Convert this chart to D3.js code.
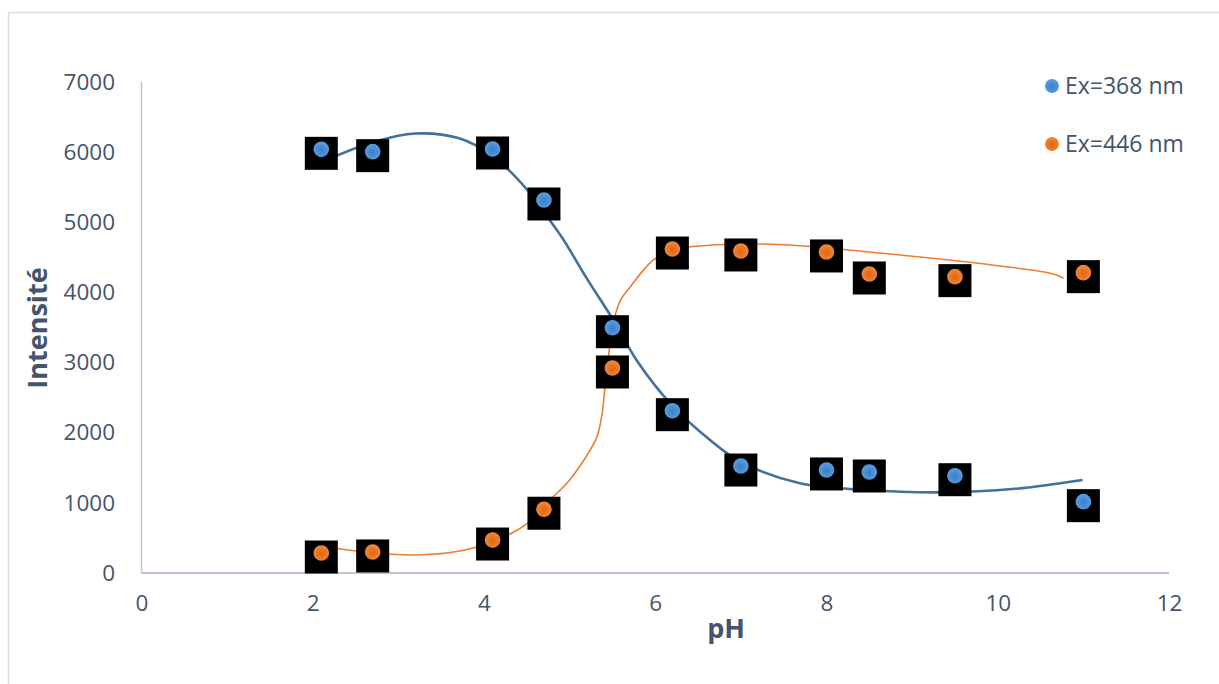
<!DOCTYPE html>
<html><head><meta charset="utf-8">
<script src="https://cdn.jsdelivr.net/npm/d3@7"></script>
<style>body{margin:0;background:#fff;} svg{display:block;}</style>
</head><body>
<svg id="c" width="1219" height="684"></svg>
<script>
// Data
const pH = [2.1, 2.7, 4.1, 4.7, 5.5, 6.2, 7.0, 8.0, 8.5, 9.5, 11.0];
const ex368 = [6040, 6007, 6045, 5318, 3497, 2314, 1525, 1469, 1440, 1387, 1017];
const ex446 = [285, 300, 470, 909, 2923, 4619, 4591, 4577, 4263, 4225, 4282];

// Trend curves as drawn
const fit368X = [2.1, 2.7, 3.2, 3.7, 4.1, 4.5, 4.75, 4.93, 5.2, 5.51, 5.8, 6.21, 6.64, 7.0, 7.69, 8.47, 9.33, 10.2, 10.99];
const fit368Y = [5855, 6140, 6265, 6200, 5945, 5470, 5060, 4748, 4200, 3607, 3000, 2371, 1896, 1583, 1278, 1183, 1150, 1200, 1326];
const fit446X = [2.1, 2.6, 3.2, 3.7, 4.1, 4.5, 4.77, 5.0, 5.24, 5.32, 5.38, 5.42, 5.46, 5.52, 5.6, 5.71, 5.85, 5.98, 6.21, 6.6, 7.22, 7.69, 8.86, 10.03, 10.65, 10.77];
const fit446Y = [389, 300, 257, 310, 446, 700, 1041, 1326, 1754, 1944, 2277, 2752, 3150, 3620, 3900, 4082, 4300, 4463, 4605, 4670, 4691, 4666, 4534, 4377, 4263, 4201];

const xTicks = [0, 2, 4, 6, 8, 10, 12];
const yTicks = [0, 1000, 2000, 3000, 4000, 5000, 6000, 7000];
const seriesNames = ["Ex=368 nm", "Ex=446 nm"];

const textColor = "#44546a";
const font = "'Open Sans', sans-serif";
const svg = d3.select("#c");

// outer border
svg.append("rect").attr("x", 8.5).attr("y", 12.5).attr("width", 1230).attr("height", 700)
  .attr("fill", "none").attr("stroke", "#d9dde3").attr("stroke-width", 1.5);

const x = d3.scaleLinear().domain([0, 12]).range([141.5, 1169]);
const y = d3.scaleLinear().domain([0, 7000]).range([573, 82]);

// axes lines
svg.append("line").attr("x1", x(0)).attr("x2", x(0)).attr("y1", y(7000)).attr("y2", y(0))
  .attr("stroke", "#bcc6d6").attr("stroke-width", 1.5);
svg.append("line").attr("x1", x(0)).attr("x2", x(12)).attr("y1", y(0)).attr("y2", y(0))
  .attr("stroke", "#bcc6d6").attr("stroke-width", 2);

// tick labels
const yAxis = d3.axisLeft(y).tickValues(yTicks).tickSize(0).tickPadding(0).tickFormat(d3.format("d"));
const gy = svg.append("g").attr("transform", `translate(115,0)`).call(yAxis);
gy.select(".domain").remove();
gy.selectAll("text").attr("fill", textColor).style("font-family", font).style("font-size", "22.5px");

const xAxis = d3.axisBottom(x).tickValues(xTicks).tickSize(0).tickPadding(0).tickFormat(d3.format("d"));
const gx = svg.append("g").attr("transform", `translate(0,595)`).call(xAxis);
gx.select(".domain").remove();
gx.selectAll("text").attr("fill", textColor).style("font-family", font).style("font-size", "22.5px");

// axis titles
svg.append("text").attr("x", 726).attr("y", 638).attr("text-anchor", "middle")
  .attr("fill", textColor).style("font-family", font).style("font-size", "27px").style("font-weight", "bold").text("pH");
svg.append("text").attr("transform", "translate(47,328) rotate(-90)").attr("text-anchor", "middle")
  .attr("fill", textColor).style("font-family", font).style("font-size", "27px").style("font-weight", "bold").text("Intensité");

// fit lines
const line = d3.line().x(d => x(d[0])).y(d => y(d[1])).curve(d3.curveCatmullRom.alpha(0.5));
svg.append("path").datum(fit446X.map((v, i) => [v, fit446Y[i]])).attr("d", line)
  .attr("fill", "none").attr("stroke", "#ed7d31").attr("stroke-width", 1.6);
svg.append("path").datum(fit368X.map((v, i) => [v, fit368Y[i]])).attr("d", line)
  .attr("fill", "none").attr("stroke", "#41719c").attr("stroke-width", 2.6);

// black squares behind points
const sq = 33;
function squares(vals) {
  svg.append("g").selectAll("rect").data(pH.map((p, i) => [p, vals[i]])).enter().append("rect")
    .attr("x", d => x(d[0]) - sq / 2).attr("y", d => y(d[1]) + 4 - sq / 2)
    .attr("width", sq).attr("height", sq).attr("fill", "#000");
}
squares(ex368);
squares(ex446);

// gradients for dots
const defs = svg.append("defs");
function grad(id, c1, c2) {
  const g = defs.append("radialGradient").attr("id", id).attr("cx", "50%").attr("cy", "55%").attr("r", "55%");
  g.append("stop").attr("offset", "0%").attr("stop-color", c1);
  g.append("stop").attr("offset", "100%").attr("stop-color", c2);
}
grad("gb", "#3a7fc8", "#5a9ee0");
grad("go", "#df6410", "#f28a3c");

function dots(vals, fill) {
  svg.append("g").selectAll("circle").data(pH.map((p, i) => [p, vals[i]])).enter().append("circle")
    .attr("cx", d => x(d[0])).attr("cy", d => y(d[1])).attr("r", 7.8).attr("fill", fill);
}
dots(ex368, "url(#gb)");
dots(ex446, "url(#go)");

// legend
const legY = [86, 144];
const legFill = ["url(#gb)", "url(#go)"];
seriesNames.forEach((n, i) => {
  svg.append("circle").attr("cx", 1052).attr("cy", legY[i]).attr("r", 7).attr("fill", legFill[i]);
  svg.append("text").attr("x", 1065).attr("y", legY[i]).attr("dy", "0.35em")
    .attr("fill", textColor).style("font-family", font).style("font-size", "23px").text(n);
});
</script>
</body></html>
